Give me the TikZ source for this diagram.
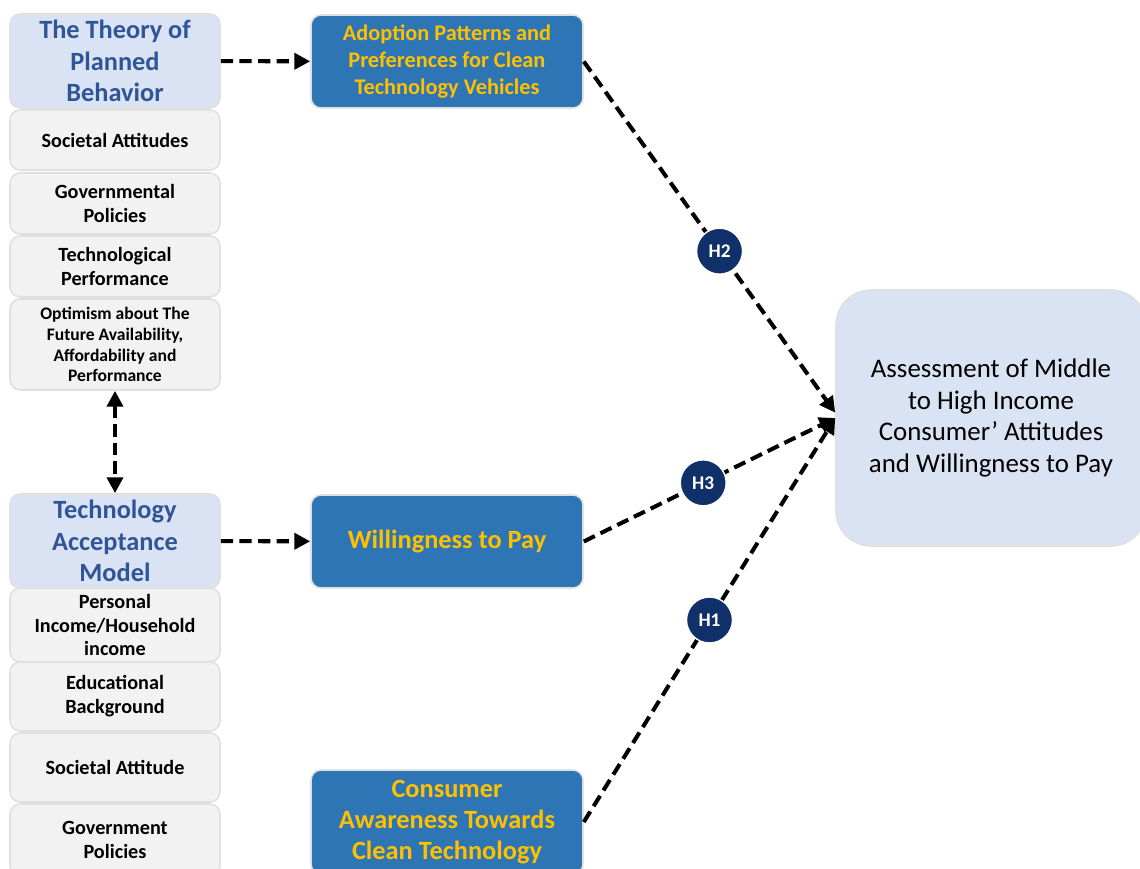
\documentclass[tikz,border=0pt]{standalone}
\usepackage{fontspec}
\setmainfont{Carlito}
\usetikzlibrary{arrows.meta}
\definecolor{hdrfill}{HTML}{DAE3F3}
\definecolor{hdrtext}{HTML}{2F5597}
\definecolor{facfill}{HTML}{F2F2F2}
\definecolor{facline}{HTML}{E0E0E0}
\definecolor{keyfill}{HTML}{2E75B6}
\definecolor{keytext}{HTML}{FFC000}
\definecolor{hypfill}{HTML}{10306A}
\tikzset{
  header/.style={draw=facline, line width=0.9pt, fill=hdrfill, rounded corners=0.2cm,
    text=hdrtext, align=center, minimum width=4.2cm, minimum height=1.88cm,
    font=\bfseries\fontsize{15}{18}\selectfont},
  factor/.style={draw=facline, line width=0.9pt, fill=facfill, rounded corners=0.2cm,
    align=center, minimum width=4.2cm, font=\bfseries\fontsize{11.5}{13.6}\selectfont},
  keybox/.style={draw=facline, line width=0.9pt, fill=keyfill, rounded corners=0.2cm,
    text=keytext, align=center, minimum width=5.44cm, minimum height=1.86cm,
    font=\bfseries\fontsize{12.7}{15.3}\selectfont},
  hyplabel/.style={circle, solid, draw=white, line width=0.8pt, fill=hypfill, text=white,
    minimum size=0.92cm, inner sep=0pt, font=\bfseries\fontsize{11}{12}\selectfont},
  link/.style={line width=2.3pt, dash pattern=on 7pt off 3.6pt,
    -{Triangle[length=9pt,width=9pt]}}
}
\begin{document}
\begin{tikzpicture}[x=0.02cm, y=-0.02cm]
  \useasboundingbox (0,0) rectangle (1140,869);
  \clip (0,0) rectangle (1140,869);

  % Left column, upper part: the theory of planned behavior
  \node[header] (tpb) at (115,61) {The Theory of\\Planned\\Behavior};
  \node[factor, minimum height=1.2cm] (socatt) at (115,140) {Societal Attitudes};
  \node[factor, minimum height=1.22cm] (govpol) at (115,203.5) {Governmental\\Policies};
  \node[factor, minimum height=1.22cm] (techperf) at (115,266.5) {Technological\\Performance};
  \node[factor, minimum height=1.82cm, font=\bfseries\fontsize{10}{11.9}\selectfont]
    (optim) at (115,344.5) {Optimism about The\\Future Availability,\\Affordability and\\Performance};

  % Left column, lower part: the technology acceptance model
  \node[header] (tam) at (115,541) {Technology\\Acceptance\\Model};
  \node[factor, minimum height=1.4cm] (income) at (115,625) {Personal\\Income/Household\\income};
  \node[factor, minimum height=1.38cm] (edu) at (115,696.5) {Educational\\Background};
  \node[factor, minimum height=1.38cm] (socatt2) at (115,767.5) {Societal Attitude};
  \node[factor, minimum height=1.44cm] (govpol2) at (115,840) {Government\\Policies};

  % Middle column
  \node[keybox] (adopt) at (447,61.5) {Adoption Patterns and\\Preferences for Clean\\Technology Vehicles};
  \node[keybox, font=\bfseries\fontsize{15}{18}\selectfont] (wtp) at (447,541.5) {Willingness to Pay};
  \node[keybox, minimum height=2.08cm, font=\bfseries\fontsize{15}{17.6}\selectfont]
    (aware) at (447,822) {Consumer\\Awareness Towards\\Clean Technology};

  % Outcome
  \node[draw=facline, line width=0.9pt, fill=hdrfill, rounded corners=0.7cm, align=center,
    minimum width=6.2cm, minimum height=5.12cm, font=\fontsize{15.3}{18}\selectfont]
    (assess) at (991,418) {Assessment of Middle\\to High Income\\Consumer’ Attitudes\\and Willingness to Pay};

  % Links
  \draw[link] (tpb) -- (adopt);
  \draw[link] (tam) -- (wtp);
  \draw[link, {Triangle[length=9pt,width=9pt]}-{Triangle[length=9pt,width=9pt]}] (optim) -- (tam);

  % Hypotheses
  \draw[link] (adopt.east) -- node[hyplabel, pos=0.54] (h2) {H2} ([yshift=3pt]assess.west);
  \draw[link] (wtp.east) -- node[hyplabel, pos=0.475] (h3) {H3} (assess.west);
  \draw[link] (aware.east) -- node[hyplabel, pos=0.5] (h1) {H1} (assess.west);
\end{tikzpicture}
\end{document}
